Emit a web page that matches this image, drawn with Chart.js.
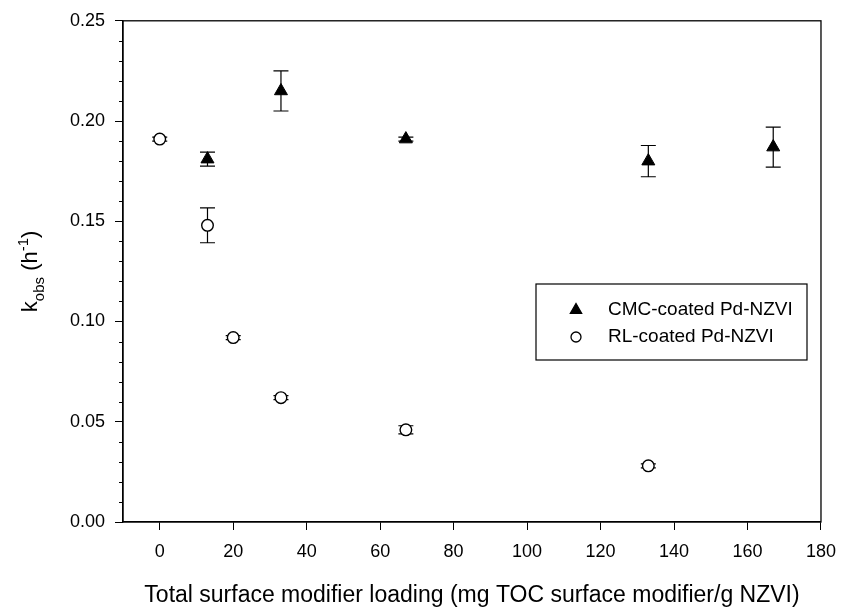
<!DOCTYPE html>
<html>
<head>
<meta charset="utf-8">
<script src="https://cdn.jsdelivr.net/npm/chart.js@4.4.0/dist/chart.umd.min.js"></script>
<style>
  body { margin: 0; background: #fff; }
  #wrap { width: 847px; height: 611px; position: relative; }
</style>
</head>
<body>
<div id="wrap"><canvas id="kobsChart"></canvas></div>
<script>
// data
var cmcLoading = [13, 33, 67, 133, 167];
var cmcKobs = [0.181, 0.215, 0.191, 0.180, 0.187];
var cmcErr = [0.0035, 0.010, 0.001, 0.0078, 0.010];

var rlLoading = [0, 13, 20, 33, 67, 133];
var rlKobs = [0.191, 0.148, 0.092, 0.062, 0.046, 0.028];
var rlErr = [0.001, 0.0087, 0.001, 0.001, 0.002, 0.001];

var xTicks = [0, 20, 40, 60, 80, 100, 120, 140, 160, 180];
var yTicks = [0, 0.05, 0.10, 0.15, 0.20, 0.25];

var FONT = "'Liberation Sans', Arial, Helvetica, sans-serif";
Chart.defaults.font.family = FONT;
Chart.defaults.color = '#000';

function toPoints(xs, ys) {
  return xs.map(function (x, i) { return { x: x, y: ys[i] }; });
}

var extras = {
  id: 'extras',
  beforeDatasetsDraw: function (chart) {
    // error bars
    var ctx = chart.ctx;
    var xs = chart.scales.x, ys = chart.scales.y;
    var errs = [cmcErr, rlErr];
    ctx.save();
    ctx.strokeStyle = '#000';
    ctx.lineWidth = 1.2;
    chart.data.datasets.forEach(function (ds, di) {
      ds.data.forEach(function (p, i) {
        var px = xs.getPixelForValue(p.x);
        var top = ys.getPixelForValue(p.y + errs[di][i]);
        var bot = ys.getPixelForValue(p.y - errs[di][i]);
        ctx.beginPath();
        ctx.moveTo(px, top); ctx.lineTo(px, bot);
        ctx.moveTo(px - 7.5, top); ctx.lineTo(px + 7.5, top);
        ctx.moveTo(px - 7.5, bot); ctx.lineTo(px + 7.5, bot);
        ctx.stroke();
      });
    });
    ctx.restore();
  },
  afterDraw: function (chart) {
    var ctx = chart.ctx;
    var a = chart.chartArea;
    var ys = chart.scales.y;
    ctx.save();
    // frame
    ctx.strokeStyle = '#000';
    ctx.lineWidth = 1.3;
    ctx.strokeRect(a.left, a.top, a.right - a.left, a.bottom - a.top);

    // minor y ticks
    ctx.lineWidth = 1;
    ctx.beginPath();
    for (var k = 1; k < 25; k++) {
      if (k % 5 === 0) continue;
      var py = Math.round(ys.getPixelForValue(k / 100)) + 0.5;
      ctx.moveTo(a.left - 4, py);
      ctx.lineTo(a.left, py);
    }
    ctx.stroke();

    // y axis title with sub/superscript
    var parts = [
      { t: 'k', size: 22, dy: 0 },
      { t: 'obs', size: 15, dy: 7 },
      { t: ' (h', size: 22, dy: 0 },
      { t: '-1', size: 15, dy: -9 },
      { t: ')', size: 22, dy: 0 }
    ];
    var total = 0;
    parts.forEach(function (p) {
      ctx.font = p.size + 'px ' + FONT;
      p.w = ctx.measureText(p.t).width;
      total += p.w;
    });
    ctx.translate(0, (a.top + a.bottom) / 2);
    ctx.rotate(-Math.PI / 2);
    ctx.fillStyle = '#000';
    ctx.textBaseline = 'alphabetic';
    var u = -total / 2;
    parts.forEach(function (p) {
      ctx.font = p.size + 'px ' + FONT;
      ctx.fillText(p.t, u, 37 + p.dy);
      u += p.w;
    });
    ctx.setTransform(1, 0, 0, 1, 0, 0);

    // legend box
    var lx = 536, lyTop = 284, lw = 271, lh = 76;
    ctx.fillStyle = '#fff';
    ctx.fillRect(lx, lyTop, lw, lh);
    ctx.strokeStyle = '#000';
    ctx.lineWidth = 1.2;
    ctx.strokeRect(lx, lyTop, lw, lh);
    var rows = [310, 337];
    chart.data.datasets.forEach(function (ds, i) {
      ctx.fillStyle = ds.backgroundColor;
      ctx.strokeStyle = '#000';
      ctx.lineWidth = 1.3;
      Chart.helpers.drawPoint(ctx, {
        pointStyle: ds.pointStyle, rotation: 0,
        radius: ds.pointStyle === 'triangle' ? 6.5 : 5,
        borderWidth: 1.3
      }, 576, rows[i]);
      ctx.fillStyle = '#000';
      ctx.font = '19px ' + FONT;
      ctx.textBaseline = 'middle';
      ctx.textAlign = 'left';
      ctx.fillText(ds.label, 608, rows[i]);
    });
    ctx.restore();
  }
};

var ctx = document.getElementById('kobsChart').getContext('2d');
var kobsChart = new Chart(ctx, {
  type: 'scatter',
  data: {
    datasets: [{
      label: 'CMC-coated Pd-NZVI',
      data: toPoints(cmcLoading, cmcKobs),
      pointStyle: 'triangle',
      pointRadius: 7.5,
      backgroundColor: '#000',
      borderColor: '#000',
      borderWidth: 1
    }, {
      label: 'RL-coated Pd-NZVI',
      data: toPoints(rlLoading, rlKobs),
      pointStyle: 'circle',
      pointRadius: 5.8,
      backgroundColor: '#fff',
      borderColor: '#000',
      borderWidth: 1.4
    }]
  },
  options: {
    responsive: true,
    maintainAspectRatio: false,
    animation: false,
    layout: { padding: { top: 19, right: 21, left: 0, bottom: 0 } },
    plugins: {
      legend: { display: false },
      tooltip: { enabled: false }
    },
    scales: {
      x: {
        type: 'linear',
        min: -10,
        max: 180,
        afterBuildTicks: function (scale) {
          scale.ticks = xTicks.map(function (v) { return { value: v }; });
        },
        afterFit: function (scale) { scale.height = 89; },
        grid: { drawOnChartArea: false, drawTicks: true, tickLength: 8, tickColor: '#000', tickWidth: 1 },
        border: { display: true, color: '#000', width: 1.3 },
        ticks: { font: { size: 18 }, padding: 11, maxRotation: 0, color: '#000' },
        title: {
          display: true,
          text: 'Total surface modifier loading (mg TOC surface modifier/g NZVI)',
          font: { size: 23 },
          color: '#000',
          padding: { top: 0, bottom: 2 }
        }
      },
      y: {
        type: 'linear',
        min: 0,
        max: 0.25,
        afterBuildTicks: function (scale) {
          scale.ticks = yTicks.map(function (v) { return { value: v }; });
        },
        afterFit: function (scale) { scale.width = 123; },
        grid: { drawOnChartArea: false, drawTicks: true, tickLength: 8, tickColor: '#000', tickWidth: 1 },
        border: { display: true, color: '#000', width: 1.3 },
        ticks: {
          font: { size: 18 },
          padding: 10,
          color: '#000',
          callback: function (v) { return Number(v).toFixed(2); }
        }
      }
    }
  },
  plugins: [extras]
});
</script>
</body>
</html>
